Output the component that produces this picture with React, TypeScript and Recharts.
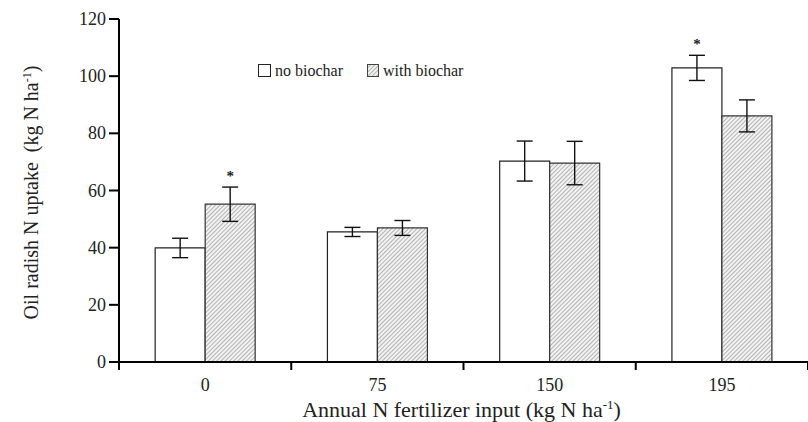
import React from 'react';
import { BarChart, Bar, XAxis, YAxis, ErrorBar, LabelList, Legend } from 'recharts';

const categories = ['0', '75', '150', '195'];
const noBiochar = [39.9, 45.5, 70.3, 102.9];
const noBiocharErr = [3.4, 1.6, 7.0, 4.4];
const withBiochar = [55.2, 46.9, 69.6, 86.1];
const withBiocharErr = [6.0, 2.6, 7.6, 5.6];
const noBiocharSig = ['', '', '', '*'];
const withBiocharSig = ['*', '', '', ''];
const yTicks = [0, 20, 40, 60, 80, 100, 120];

const data = categories.map((c, i) => ({
  cat: c,
  a: noBiochar[i],
  aErr: noBiocharErr[i],
  aSig: noBiocharSig[i],
  b: withBiochar[i],
  bErr: withBiocharErr[i],
  bSig: withBiocharSig[i],
}));

const FONT = 'Liberation Serif';
const TXT = '#222';

const XTick = (props: any) => {
  const { x, y, payload, index, visibleTicksCount } = props;
  const off = payload && payload.offset ? payload.offset : 0;
  const last = index === visibleTicksCount - 1;
  return (
    <g>
      <line x1={x - off} x2={x - off} y1={y - 8} y2={y} stroke="#000" strokeWidth={2} />
      {last && <line x1={x + off} x2={x + off} y1={y - 8} y2={y} stroke="#000" strokeWidth={2} />}
      <text x={x} y={y + 21} textAnchor="middle" style={{ fontFamily: FONT }} fontSize={18} fill={TXT}>
        {payload.value}
      </text>
    </g>
  );
};

const YTick = (props: any) => {
  const { x, y, payload } = props;
  return (
    <text x={x} y={y + 6} textAnchor="end" style={{ fontFamily: FONT }} fontSize={18} fill={TXT}>
      {payload.value}
    </text>
  );
};

const makeSig = (vals: number[], errs: number[], sigs: string[]) => (props: any) => {
  const { x, y, width, height, index } = props;
  const s = sigs[index];
  if (!s) return null;
  const pxPerUnit = height / vals[index];
  const top = y - errs[index] * pxPerUnit;
  return (
    <text x={x + width / 2} y={top - 6} textAnchor="middle" style={{ fontFamily: FONT, fontWeight: 'bold' }} fontSize={15} fill={TXT}>
      {s}
    </text>
  );
};

const LegendContent = () => (
  <svg width={230} height={22} style={{ display: 'block' }}>
    <defs>
      <pattern id="hatchL" patternUnits="userSpaceOnUse" width={3} height={3} patternTransform="rotate(45)">
        <rect width={3} height={3} fill="#f2f2f2" />
        <line x1={0} y1={0} x2={0} y2={3} stroke="#8a8a8a" strokeWidth={1.2} />
      </pattern>
    </defs>
    <rect x={2.5} y={4.5} width={12} height={12} fill="#fff" stroke="#222" strokeWidth={1} />
    <text x={19} y={16} style={{ fontFamily: FONT }} fontSize={16} fill={TXT}>no biochar</text>
    <rect x={111.5} y={4.5} width={11} height={12} fill="url(#hatchL)" stroke="#444" strokeWidth={1} />
    <text x={127} y={16} style={{ fontFamily: FONT }} fontSize={16} fill={TXT}>with biochar</text>
  </svg>
);

export default function App() {
  return (
    <div style={{ position: 'absolute', left: 0, top: 0, background: '#fff' }}>
      <BarChart
        width={808}
        height={422}
        data={data}
        margin={{ top: 19, right: 0, bottom: 0, left: 0 }}
        barCategoryGap="21%"
        barGap={0}
      >
        <defs>
          <pattern id="hatch" patternUnits="userSpaceOnUse" width={3} height={3} patternTransform="rotate(45)">
            <rect width={3} height={3} fill="#f2f2f2" />
            <line x1={0} y1={0} x2={0} y2={3} stroke="#8a8a8a" strokeWidth={1.2} />
          </pattern>
        </defs>
        <XAxis
          dataKey="cat"
          height={60}
          tickSize={8}
          tickMargin={0}
          tickLine={false}
          axisLine={{ stroke: '#000', strokeWidth: 2 }}
          tick={<XTick />}
          interval={0}
          label={{
            content: (p: any) => {
              const vb = p.viewBox;
              return (
                <text x={vb.x + vb.width / 2 - 2} y={vb.y + 55} textAnchor="middle" style={{ fontFamily: FONT }} fontSize={22} fill={TXT}>
                  Annual N fertilizer input (kg N ha
                  <tspan dy={-8} fontSize={13}>-1</tspan>
                  <tspan dy={8}>)</tspan>
                </text>
              );
            },
          }}
        />
        <YAxis
          width={119}
          domain={[0, 120]}
          ticks={yTicks}
          interval={0}
          tickSize={10}
          tickMargin={3}
          tickLine={{ stroke: '#000', strokeWidth: 2 }}
          axisLine={{ stroke: '#000', strokeWidth: 2 }}
          tick={<YTick />}
          label={{
            content: (p: any) => {
              const vb = p.viewBox;
              const cx = 38;
              const cy = vb.y + vb.height / 2 + 2;
              return (
                <text x={cx} y={cy} transform={`rotate(-90 ${cx} ${cy})`} textAnchor="middle" style={{ fontFamily: FONT }} fontSize={20} fill={TXT}>
                  {'Oil radish N uptake\u00A0 (kg N ha'}
                  <tspan dy={-7} fontSize={12}>-1</tspan>
                  <tspan dy={7}>)</tspan>
                </text>
              );
            },
          }}
        />
        <Legend
          verticalAlign="middle"
          layout="horizontal"
          content={<LegendContent />}
          wrapperStyle={{ top: 60, left: 256, width: 230, height: 22 }}
        />
        <Bar dataKey="a" name="no biochar" fill="#fff" stroke="#222" strokeWidth={1.2} isAnimationActive={false}>
          <ErrorBar dataKey="aErr" width={8} stroke="#111" strokeWidth={1.4} direction="y" />
          <LabelList dataKey="aSig" content={makeSig(noBiochar, noBiocharErr, noBiocharSig)} />
        </Bar>
        <Bar dataKey="b" name="with biochar" fill="url(#hatch)" stroke="#333" strokeWidth={1.2} isAnimationActive={false}>
          <ErrorBar dataKey="bErr" width={8} stroke="#111" strokeWidth={1.4} direction="y" />
          <LabelList dataKey="bSig" content={makeSig(withBiochar, withBiocharErr, withBiocharSig)} />
        </Bar>
      </BarChart>
    </div>
  );
}
